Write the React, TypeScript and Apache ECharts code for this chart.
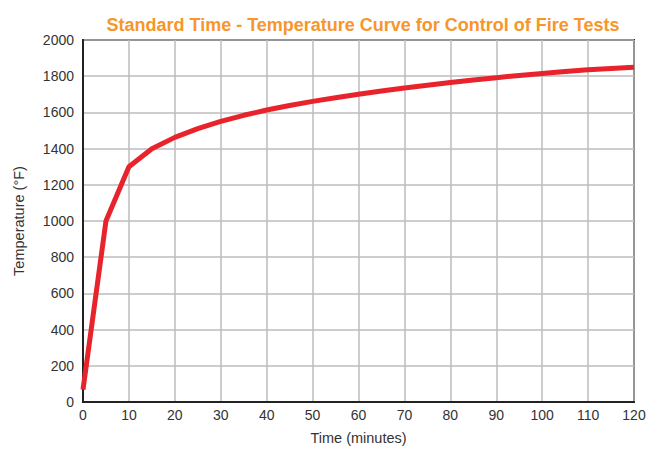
import React, { useEffect, useRef } from "react";
import * as echarts from "echarts";

const titleText = "Standard Time - Temperature Curve for Control of Fire Tests";
const xName = "Time (minutes)";
const yName = "Temperature (°F)";
const minutes = [0, 5, 10, 15, 20, 25, 30, 35, 40, 45, 50, 55, 60, 65, 70, 75, 80, 85, 90, 95, 100, 105, 110, 115, 120];
const temperatures = [68, 1000, 1300, 1399, 1462, 1510, 1550, 1584, 1613, 1638, 1661, 1681, 1700, 1718, 1735, 1750, 1765, 1779, 1792, 1804, 1815, 1826, 1835, 1843, 1850];

export default function App() {
  const ref = useRef<HTMLDivElement>(null);
  useEffect(() => {
    if (!ref.current) return;
    const chart = echarts.init(ref.current, undefined, { renderer: "svg" });
    const font = "Liberation Sans, Arial, sans-serif";
    chart.setOption({
      animation: false,
      backgroundColor: "#ffffff",
      title: {
        text: titleText,
        left: 358,
        top: 11,
        textAlign: "center",
        textStyle: { color: "#f7962a", fontSize: 18, fontWeight: "bold", fontFamily: font },
      },
      grid: {
        left: 83,
        right: 21,
        top: 40,
        bottom: 42,
        show: true,
        borderColor: "#222222",
        borderWidth: 2,
      },
      xAxis: {
        type: "value",
        min: 0,
        max: 120,
        interval: 10,
        name: xName,
        nameLocation: "middle",
        nameGap: 28,
        nameTextStyle: { color: "#333333", fontSize: 14.5, fontFamily: font },
        axisLine: { show: true, lineStyle: { color: "#222222", width: 2 } },
        axisTick: { show: false },
        axisLabel: { color: "#333333", fontSize: 14, fontFamily: font, margin: 6, formatter: (v: number) => String(v) },
        splitLine: { show: true, lineStyle: { color: "#bdbdbd", width: 1.5 } },
      },
      yAxis: {
        type: "value",
        min: 0,
        max: 2000,
        interval: 200,
        name: yName,
        nameLocation: "middle",
        nameGap: 57,
        nameTextStyle: { color: "#333333", fontSize: 14.5, fontFamily: font },
        axisLine: { show: true, lineStyle: { color: "#222222", width: 2 } },
        axisTick: { show: false },
        axisLabel: { color: "#333333", fontSize: 14, fontFamily: font, margin: 9, formatter: (v: number) => String(v) },
        splitLine: { show: true, lineStyle: { color: "#bdbdbd", width: 1.5 } },
      },
      series: [
        {
          type: "line",
          data: minutes.map((m, i) => [m, temperatures[i]]),
          showSymbol: false,
          smooth: false,
          lineStyle: { color: "#e8232b", width: 5 },
        },
      ],
    });
    return () => chart.dispose();
  }, []);
  return (
    <div
      ref={ref}
      style={{ position: "fixed", left: 0, top: 0, width: 655, height: 450 }}
    />
  );
}
